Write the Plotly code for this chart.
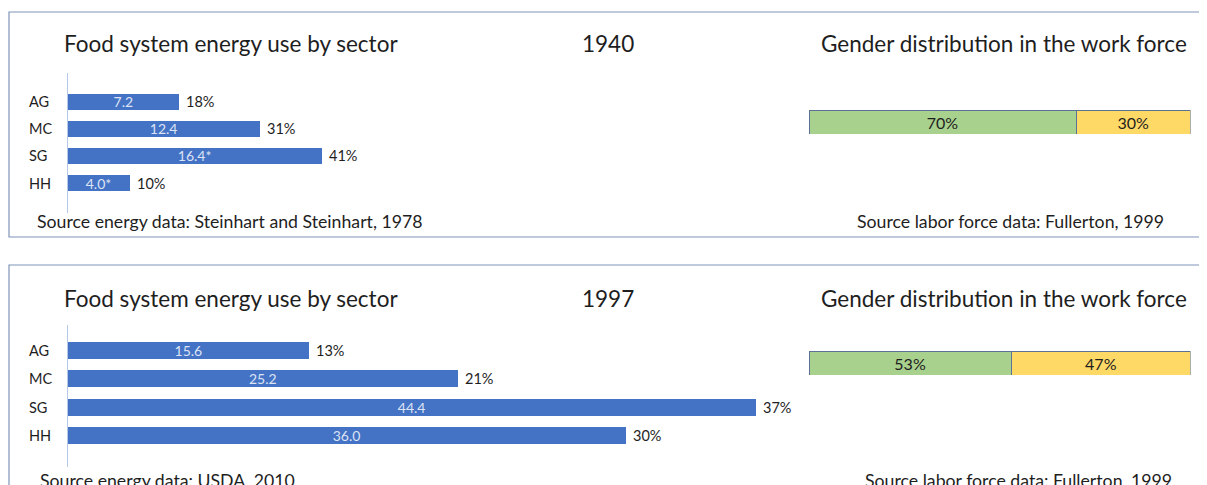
import plotly.graph_objects as go

# energy use by sector (values shown in the bars, share shown to the right)
sectors = ["AG", "MC", "SG", "HH"]
energy_1940 = [7.2, 12.4, 16.4, 4.0]
energy_1940_text = ["7.2", "12.4", "16.4*", "4.0*"]
share_1940 = ["18%", "31%", "41%", "10%"]
energy_1997 = [15.6, 25.2, 44.4, 36.0]
energy_1997_text = ["15.6", "25.2", "44.4", "36.0"]
share_1997 = ["13%", "21%", "37%", "30%"]

# gender distribution in the work force
gender_1940 = [70, 30]
gender_1997 = [53, 47]
gender_colors = ["#A9D18E", "#FFD966"]

# the page puts the plot 8px in from the top-left corner
OFF = 8
W, H = 1207 - OFF, 485 - OFF
FONT = "Lato"
BLUE = "#4472C4"
TXT = "#1e1e1e"


def px(x):
    return (x - OFF) / W


def py(y):
    return 1 - (y - OFF) / H


fig = go.Figure()

panels = [
    dict(year="1940", vals=energy_1940, txt=energy_1940_text, share=share_1940, gender=gender_1940,
         ydom=(73, 213), yrange=[4.11, -1.07], gdom=(110, 134),
         top=12, bottom=237, title_y=44, src_y=221,
         src="Source energy data: Steinhart and Steinhart, 1978", src_x=35, lab_x=1166),
    dict(year="1997", vals=energy_1997, txt=energy_1997_text, share=share_1997, gender=gender_1997,
         ydom=(325, 467), yrange=[4.1, -0.88], gdom=(351, 375),
         top=265, bottom=530, title_y=298, src_y=480,
         src="Source energy data: USDA, 2010", src_x=38, lab_x=1174),
]

shapes = []
annotations = []
for i, p in enumerate(panels):
    n = "" if i == 0 else str(2 * i + 1)
    gn = str(2 * i + 2)
    xa, ya = "x" + n, "y" + n
    gx, gy = "x" + gn, "y" + gn

    fig.add_trace(go.Bar(
        x=p["vals"], y=sectors, orientation="h", xaxis=xa, yaxis=ya,
        marker=dict(color=BLUE, line=dict(width=0)), width=0.6,
        text=p["txt"], textposition="inside", insidetextanchor="middle", constraintext="none",
        textfont=dict(family=FONT, size=14, color="#DCE3F5"), showlegend=False, hoverinfo="skip"))
    for g, c in zip(p["gender"], gender_colors):
        fig.add_trace(go.Bar(
            x=[g], y=[0], orientation="h", xaxis=gx, yaxis=gy, width=1, cliponaxis=False,
            marker=dict(color=c, line=dict(color="#5B7195", width=1)),
            text=[f"{g}%"], textposition="inside", insidetextanchor="middle", constraintext="none",
            textfont=dict(family=FONT, size=16, color=TXT), showlegend=False, hoverinfo="skip"))

    y0, y1 = p["ydom"]
    fig.layout["xaxis" + n] = dict(domain=[px(67.5), px(842.5)], range=[0, 50], visible=False,
                                   anchor=ya)
    fig.layout["yaxis" + n] = dict(domain=[py(y1), py(y0)], range=p["yrange"], anchor=xa,
                                   showticklabels=False, showgrid=False, zeroline=False,
                                   showline=True, linecolor="#B4C7E7", linewidth=1,
                                   categoryorder="array", categoryarray=sectors)
    g0, g1 = p["gdom"]
    fig.layout["xaxis" + gn] = dict(domain=[px(809), px(1190.5)], range=[0, 100], visible=False,
                                    anchor=gy)
    fig.layout["yaxis" + gn] = dict(domain=[py(g1), py(g0)], range=[-0.5, 0.5], visible=False,
                                    anchor=gx)

    # sector names and shares
    for s, v, sh in zip(sectors, p["vals"], p["share"]):
        annotations.append(dict(x=px(27), xref="paper", y=s, yref=ya, text=s, xanchor="left", size=14.5))
        annotations.append(dict(x=v, xref=xa, y=s, yref=ya, text=sh, xanchor="left", xshift=5, size=14.5))

    annotations += [
        dict(x=px(62), y=py(p["title_y"]), text="Food system energy use by sector", xanchor="left", size=22.5),
        dict(x=px(608), y=py(p["title_y"]), text=p["year"], xanchor="center", size=22.5),
        dict(x=px(1189), y=py(p["title_y"]), text="Gender distribution in the work force",
             xanchor="right", size=22.5),
        dict(x=px(p["src_x"]), y=py(p["src_y"]), text=p["src"], xanchor="left", size=17.7),
        dict(x=px(p["lab_x"]), y=py(p["src_y"]), text="Source labor force data: Fullerton, 1999",
             xanchor="right", size=17.7),
    ]
    shapes.append(dict(type="rect", xref="paper", yref="paper", x0=px(9), x1=px(1230),
                       y0=py(p["bottom"]), y1=py(p["top"]),
                       line=dict(color="#7F93B8", width=1.2)))

for a in annotations:
    a.setdefault("xref", "paper")
    a.setdefault("yref", "paper")
    a["showarrow"] = False
    a["yanchor"] = "middle"
    a["font"] = dict(family=FONT, color=TXT, size=a.pop("size"))

fig.update_layout(
    width=W, height=H, margin=dict(l=0, r=0, t=0, b=0),
    paper_bgcolor="white", plot_bgcolor="rgba(0,0,0,0)",
    barmode="stack", shapes=shapes, annotations=annotations,
    font=dict(family=FONT, color=TXT),
)

fig.write_html("out.html")
